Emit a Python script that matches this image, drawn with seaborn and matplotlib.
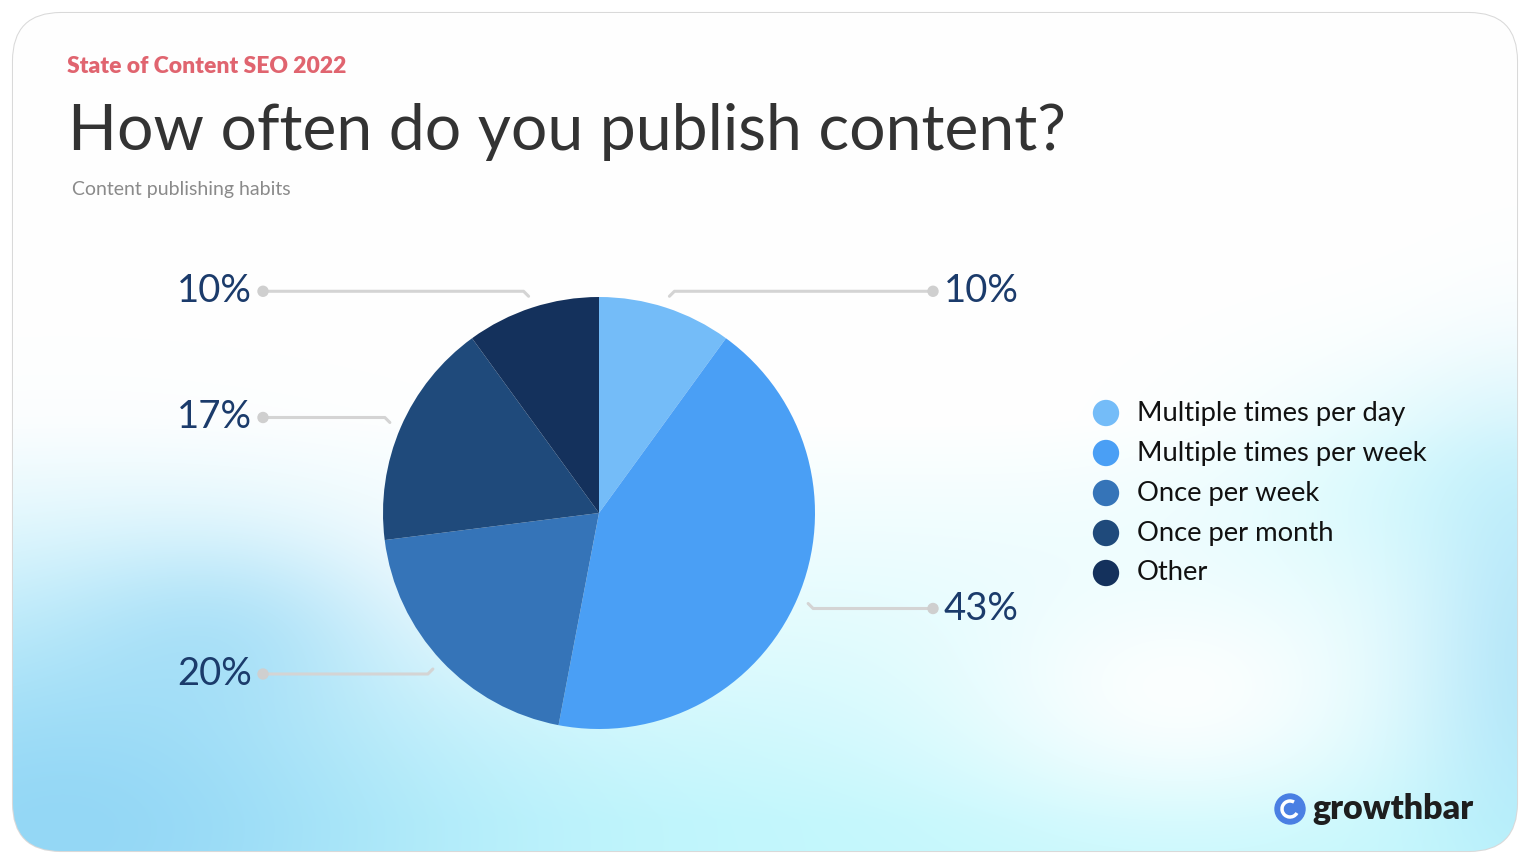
"""Pie chart: how often do you publish content"""

import numpy as np
import pandas as pd
import matplotlib

matplotlib.use("Agg")
import matplotlib.pyplot as plt
from matplotlib.patches import FancyBboxPatch, Circle, Arc
import seaborn as sns

# data
categories = ["Multiple times per day", "Multiple times per week", "Once per week",
              "Once per month", "Other"]
shares = [10, 43, 20, 17, 10]
colors = ["#74bcf8", "#4a9ff5", "#3574b8", "#1f4a7b", "#14315c"]

W, H = 1536, 864

sns.set_theme(style="white")
plt.rcParams["font.family"] = ["Lato", "DejaVu Sans"]

fig = plt.figure(figsize=(W / 100, H / 100), dpi=100)
fig.patch.set_facecolor("white")
ax = fig.add_axes([0, 0, 1, 1])


def py(y):
    """pixel row (from top) -> data y"""
    return H - y


# card with soft gradient
card = FancyBboxPatch((13, 13), 1504, 838, boxstyle="round,pad=0,rounding_size=48",
                      facecolor="white", edgecolor="#d9d9d9", linewidth=1.5, zorder=0)
ax.add_patch(card)

yy, xx = np.mgrid[0:H, 0:W].astype(float)


def blob(cx, cy, sx, sy):
    return np.exp(-(((xx - cx) / sx) ** 2 + ((yy - cy) / sy) ** 2))


img = np.ones((H, W, 3))
cyan = np.array([0.76, 0.97, 0.99])
blue = np.array([0.56, 0.83, 0.96])
a = np.clip((yy - 420) / 400, 0, 1) ** 1.0 * 0.97
a = a * (1 - 0.9 * blob(1180, 690, 230, 130)) * (1 - 0.8 * blob(470, 560, 220, 120))
a = np.clip(a + 0.5 * blob(1470, 470, 220, 110), 0, 1)
img = img * (1 - a[..., None]) + cyan * a[..., None]
b = 0.9 * blob(60, 830, 380, 230) + 0.5 * blob(1540, 650, 120, 220) + 0.3 * blob(230, 620, 160, 90)
b = np.clip(b, 0, 1)
img = img * (1 - b[..., None]) + blue * b[..., None]
im = ax.imshow(img, extent=[0, W, 0, H], origin="upper", zorder=0.5, aspect="auto")
im.set_clip_path(card)

# pie
cx, cy, R = 599, py(513), 216
wedges, _ = ax.pie(shares, colors=colors, startangle=90, counterclock=False,
                   center=(cx, cy), radius=R, wedgeprops=dict(linewidth=0), frame=False)
for w in wedges:
    w.set_zorder(3)

# leader lines and labels
line_c = "#d4d4d4"
for w, v in zip(wedges, shares):
    mid = np.deg2rad((w.theta1 + w.theta2) / 2)
    ax_, ay_ = cx + 1.055 * R * np.cos(mid), cy + 1.055 * R * np.sin(mid)
    ly = ay_ + 5 * np.sign(np.sin(mid))
    left = np.cos(mid) < 0
    dx = 263 if left else 933
    elbow = ax_ - 5 if left else ax_ + 5
    ax.plot([ax_, elbow, dx], [ay_, ly, ly], color=line_c, lw=2.2, solid_capstyle="round",
            zorder=2)
    ax.add_patch(Circle((dx, ly), 5, color="#cfcfcf", zorder=2))
    if left:
        ax.text(252, ly, f"{v}%", ha="right", va="center", fontsize=27.5, color="#1b3b6b")
    else:
        ax.text(944, ly, f"{v}%", ha="left", va="center", fontsize=27.5, color="#1b3b6b")

# legend
leg = pd.DataFrame({"cat": categories, "x": [1106] * 5,
                    "y": [py(413 + 40 * i) for i in range(5)]})
sns.scatterplot(data=leg, x="x", y="y", hue="cat", palette=colors, s=360,
                linewidth=0, legend=False, ax=ax, zorder=4)
for _, r in leg.iterrows():
    ax.text(1137, r["y"], r["cat"], ha="left", va="center", fontsize=19.7, color="#111111")

# titles
ax.text(67, py(73), "State of Content SEO 2022", fontsize=16.5, fontweight="heavy",
        color="#e0646f", va="baseline")
ax.text(68, py(150), "How often do you publish content?", fontsize=46.3,
        color="#333333", va="baseline")
ax.text(72, py(195), "Content publishing habits", fontsize=14, color="#8a8a8a",
        va="baseline")

# logo
ax.add_patch(Circle((1290, py(809)), 15, color="#4a7fe3", zorder=4))
ax.add_patch(Arc((1290, py(809)), 16, 16, theta1=60, theta2=330, color="white",
                 lw=2.5, zorder=5))
ax.text(1312, py(809), "growthbar", fontsize=24.5, fontweight="heavy", color="#1e1e1e",
        va="center", ha="left")

ax.set_xlim(0, W)
ax.set_ylim(0, H)
ax.axis("off")

plt.savefig("out.png", dpi=100)
plt.close()
